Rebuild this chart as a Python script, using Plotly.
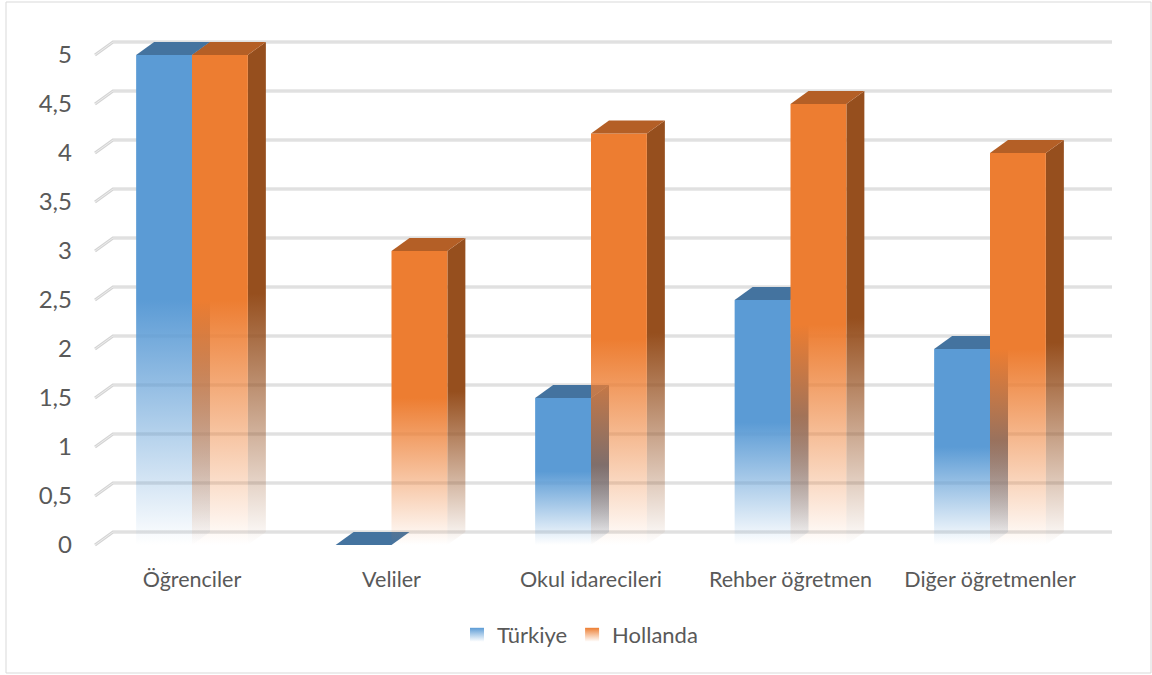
import plotly.graph_objects as go

# ---------------- data ----------------
categories = ["Öğrenciler", "Veliler", "Okul idarecileri", "Rehber öğretmen", "Diğer öğretmenler"]
turkiye = [5, 0, 1.5, 2.5, 2]
hollanda = [5, 3, 4.2, 4.5, 4]
series_names = ["Türkiye", "Hollanda"]
y_ticks = [0, 0.5, 1, 1.5, 2, 2.5, 3, 3.5, 4, 4.5, 5]
y_tick_labels = ["0", "0,5", "1", "1,5", "2", "2,5", "3", "3,5", "4", "4,5", "5"]

# ---------------- layout geometry (pixels) ----------------
W, H = 1152, 675
ML, MR, MT, MB = 85, 30, 20, 115
PX_X = 199.5   # pixels per category step
PX_Y = 98.0    # pixels per value unit
X0_PX = 192    # pixel x of first category
Y0_PX = 545    # pixel y of value 0 (front plane)
xr = [(ML - X0_PX) / PX_X, (W - MR - X0_PX) / PX_X]
yr = [(Y0_PX - (H - MB)) / PX_Y, (Y0_PX - MT) / PX_Y]

DX = 18 / PX_X          # depth offset in x units
DY = 13 / PX_Y          # depth offset in y units
BW = 0.28               # bar width (category units)
GRID_L = (95 - X0_PX) / PX_X
GRID_R = (1112 - X0_PX) / PX_X

styles = [
    dict(front="#5B9BD5", top="#44739F", side="#3A6590"),
    dict(front="#ED7D31", top="#B45F26", side="#964F1E"),
]


def rgba(h, a):
    h = h.lstrip("#")
    r, g, b = int(h[0:2], 16), int(h[2:4], 16), int(h[4:6], 16)
    return f"rgba({r},{g},{b},{a})"


def grad(col, stop):
    return dict(type="vertical", start=0, stop=stop,
                colorscale=[[0, rgba(col, 0.0)], [0.5, rgba(col, 1.0)], [1, rgba(col, 1.0)]])


fig = go.Figure()

# gridlines (back wall with slanted floor connection)
for v in y_ticks:
    fig.add_trace(go.Scatter(
        x=[GRID_L, GRID_L + DX, GRID_R], y=[v, v + DY, v + DY],
        mode="lines", line=dict(color="#D4D4D4", width=3),
        showlegend=False, hoverinfo="skip"))
    fig.add_trace(go.Scatter(
        x=[GRID_L, GRID_L + DX, GRID_R], y=[v, v + DY, v + DY],
        mode="lines", line=dict(color="#EDEDED", width=1),
        showlegend=False, hoverinfo="skip"))

data = [turkiye, hollanda]
for i, cat in enumerate(categories):
    for s, vals in enumerate(data):
        v = vals[i]
        st = styles[s]
        xl = i - BW + s * BW
        xr_ = xl + BW
        if v > 0:
            # side face
            fig.add_trace(go.Scatter(
                x=[xr_, xr_ + DX, xr_ + DX, xr_, xr_],
                y=[0, DY, v + DY, v, 0],
                mode="lines", line=dict(width=0), fill="toself",
                fillgradient=grad(st["side"], v + DY),
                showlegend=False, hoverinfo="skip"))
            # front face
            fig.add_trace(go.Scatter(
                x=[xl, xr_, xr_, xl, xl],
                y=[0, 0, v, v, 0],
                mode="lines", line=dict(width=0), fill="toself",
                fillgradient=grad(st["front"], v),
                showlegend=False, hoverinfo="skip"))
        # top face
        fig.add_trace(go.Scatter(
            x=[xl, xr_, xr_ + DX, xl + DX, xl],
            y=[v, v, v + DY, v + DY, v],
            mode="lines", line=dict(width=0), fill="toself",
            fillcolor=st["top"], showlegend=False, hoverinfo="skip"))

# legend entries (square gradient swatches)
for s, name in enumerate(series_names):
    fig.add_trace(go.Scatter(
        x=[None], y=[None], mode="markers", name=name,
        marker=dict(symbol="square", size=14, color=styles[s]["front"],
                    gradient=dict(type="vertical", color="rgba(255,255,255,0.9)"),
                    line=dict(width=0))))

FONT = "Lato, Carlito, Calibri, sans-serif"
fig.update_layout(
    width=W, height=H,
    margin=dict(l=ML, r=MR, t=MT, b=MB),
    paper_bgcolor="white", plot_bgcolor="white",
    font=dict(family=FONT, size=22, color="#595959"),
    xaxis=dict(range=xr, showgrid=False, zeroline=False, showline=False,
               tickvals=list(range(len(categories))), ticktext=categories,
               tickfont=dict(size=21.5),
               ticks="", ticklabelstandoff=4, fixedrange=True),
    yaxis=dict(range=yr, showgrid=False, zeroline=False, showline=False,
               tickvals=y_ticks, ticktext=y_tick_labels,
               tickfont=dict(size=24),
               ticks="", ticklabelstandoff=12, fixedrange=True),
    legend=dict(orientation="h", x=(580 - ML) / (W - ML - MR), xanchor="center",
                y=(H - MB - 635) / (H - MB - MT), yanchor="middle",
                font=dict(size=22, color="#595959"), itemwidth=30),
    shapes=[dict(type="rect", xref="paper", yref="paper",
                 x0=(6 - ML) / (W - ML - MR), x1=(1151 - ML) / (W - ML - MR),
                 y0=(H - MB - 673) / (H - MB - MT), y1=(H - MB - 2) / (H - MB - MT),
                 line=dict(color="#D9D9D9", width=1), layer="below")],
)

fig.write_html("out.html")
